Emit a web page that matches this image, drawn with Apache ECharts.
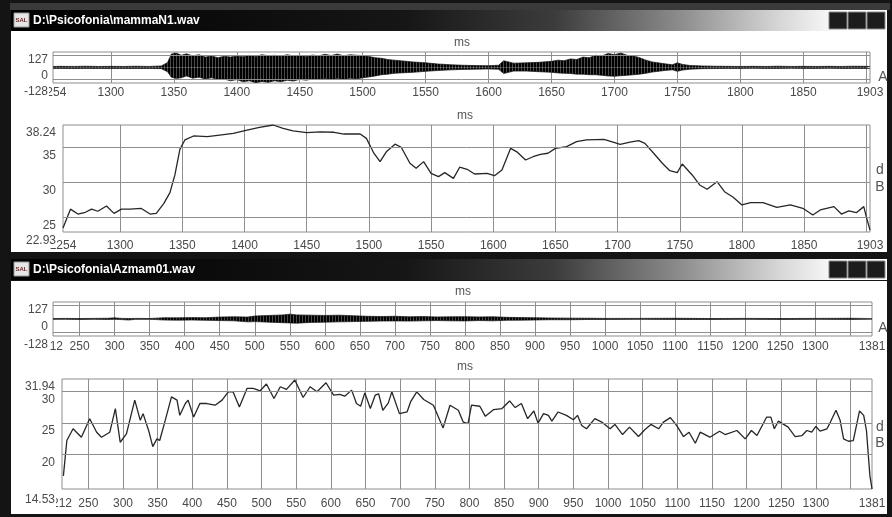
<!DOCTYPE html>
<html><head><meta charset="utf-8">
<script src="https://cdn.jsdelivr.net/npm/echarts@6/dist/echarts.min.js"></script>
<style>html,body{margin:0;padding:0;background:#141414;}#c{width:892px;height:517px;}</style>
</head><body><div id="c"></div>
<script>
// ---------- texts ----------
const titleTop = 'D:\\Psicofonia\\mammaN1.wav';
const titleBottom = 'D:\\Psicofonia\\Azmam01.wav';

// ---------- axis ticks ----------
const topXLabels = [1254,1300,1350,1400,1450,1500,1550,1600,1650,1700,1750,1800,1850,1903];
const topXGrid = [1300,1350,1400,1450,1500,1550,1600,1650,1700,1750,1800,1850,1900];
const botXLabels = [212,250,300,350,400,450,500,550,600,650,700,750,800,850,900,950,1000,1050,1100,1150,1200,1250,1300,1381];
const botXGrid = [250,300,350,400,450,500,550,600,650,700,750,800,850,900,950,1000,1050,1100,1150,1200,1250,1300,1350];
const waveYLabels = [-128,0,127];
const waveYGrid = [-100,100];
const topDbYLabels = [22.93,25,30,35,38.24];
const topDbYGrid = [25,30,35];
const botDbYLabels = [14.53,20,25,30,31.94];
const botDbYGrid = [20,25,30];

// ---------- waveform envelopes [ms, max, min] ----------
const topWave = [
[1254,8,-8],[1260,9,-8],[1270,8,-9],[1280,10,-8],[1290,8,-8],[1300,9,-9],[1310,8,-8],[1320,10,-9],[1330,8,-8],[1340,12,-10],
[1345,40,-35],[1348,110,-80],[1352,118,-90],[1356,100,-85],[1360,112,-70],[1365,95,-88],[1370,105,-80],[1375,85,-95],[1380,95,-85],
[1385,80,-100],[1390,92,-95],[1395,85,-110],[1400,95,-100],[1405,88,-118],[1410,100,-110],[1415,90,-125],[1420,105,-115],[1425,95,-122],
[1430,100,-110],[1435,92,-118],[1440,105,-105],[1445,95,-112],[1450,100,-98],[1455,90,-105],[1460,102,-95],[1465,95,-100],[1470,108,-90],
[1475,98,-100],[1480,110,-92],[1485,95,-100],[1490,105,-88],[1495,100,-95],[1500,98,-85],[1505,90,-78],[1510,80,-70],[1515,75,-60],
[1520,65,-55],[1525,60,-48],[1530,55,-45],[1540,45,-40],[1550,38,-32],[1560,28,-25],[1570,22,-20],[1580,18,-16],[1590,15,-14],[1600,14,-12],
[1608,18,-15],[1612,55,-50],[1616,45,-40],[1620,35,-30],[1630,38,-30],[1640,42,-35],[1650,50,-40],[1655,60,-45],[1660,55,-48],[1665,70,-50],
[1670,65,-55],[1675,85,-55],[1680,80,-60],[1685,100,-60],[1690,95,-65],[1695,115,-70],[1700,105,-72],[1705,118,-68],[1710,100,-65],
[1715,95,-60],[1720,80,-55],[1725,60,-48],[1730,45,-38],[1740,30,-25],[1746,22,-20],[1750,38,-32],[1754,25,-22],[1760,16,-14],[1770,12,-10],
[1780,10,-9],[1790,9,-8],[1800,8,-8],[1810,9,-7],[1820,8,-8],[1830,10,-8],[1840,8,-7],[1850,9,-8],[1860,8,-8],[1870,9,-7],[1880,8,-8],
[1890,10,-8],[1900,9,-8],[1903,8,-7]
];
const botWave = [
[212,3,-3],[230,4,-3],[250,3,-4],[270,4,-3],[290,5,-4],[300,8,-3],[310,4,-5],[320,3,-8],[330,4,-3],[350,3,-3],[360,6,-5],[370,9,-8],
[390,8,-9],[410,10,-8],[430,9,-10],[450,14,-12],[470,16,-14],[490,14,-22],[500,22,-20],[520,26,-24],[540,30,-28],[550,36,-30],[560,30,-32],
[580,28,-26],[600,26,-24],[620,28,-22],[640,24,-20],[660,20,-18],[680,18,-16],[700,20,-15],[720,16,-16],[740,18,-14],[760,15,-12],
[780,16,-14],[800,17,-15],[820,15,-12],[840,16,-14],[860,12,-10],[880,10,-9],[900,9,-8],[920,7,-6],[950,6,-6],[980,5,-4],[1000,4,-4],
[1050,4,-3],[1100,5,-4],[1150,3,-4],[1200,4,-3],[1250,3,-4],[1300,4,-3],[1350,5,-4],[1381,3,-3]
];

// ---------- intensity curves [ms, dB] ----------
const topDb = [
[1254,23.5],[1260,26.2],[1266,25.5],[1272,25.75],[1277,26.2],[1282,25.9],[1289,26.65],[1295,25.6],[1301,26.2],[1308,26.2],[1317,26.3],
[1324,25.5],[1329,25.6],[1335,27.0],[1340,28.56],[1344,31.1],[1348,34.76],[1352,36.1],[1359,36.67],[1370,36.57],[1380,36.8],[1391,37.05],
[1402,37.5],[1412,37.9],[1423,38.24],[1431,37.77],[1439,37.4],[1450,37.14],[1461,37.26],[1472,37.2],[1480,36.95],[1493,36.95],[1498,36.33],
[1504,34.2],[1509,32.99],[1514,34.4],[1521,35.5],[1526,35.05],[1533,32.76],[1538,32.04],[1544,33.0],[1550,31.33],[1556,30.85],[1561,31.42],
[1568,30.6],[1573,32.2],[1579,31.9],[1585,31.23],[1595,31.33],[1601,30.99],[1607,31.8],[1614,34.9],[1619,34.4],[1626,33.23],[1632,33.7],
[1638,34.05],[1644,34.2],[1650,34.9],[1659,35.14],[1667,35.86],[1675,36.1],[1689,36.19],[1697,35.76],[1702,35.48],[1710,35.8],[1717,36.0],
[1722,35.62],[1729,34.2],[1736,32.76],[1742,31.7],[1748,31.42],[1752,32.66],[1760,31.09],[1766,29.66],[1772,29.04],[1780,30.13],[1786,28.7],
[1793,27.9],[1800,26.8],[1807,27.13],[1817,27.13],[1828,26.46],[1839,26.8],[1849,26.32],[1857,25.37],[1863,26.08],[1874,26.56],[1880,25.5],
[1886,25.94],[1892,25.7],[1898,26.56],[1900,25.12],[1903,23.2]
];
const botDb = [
[214,16.6],[219,22.2],[228,24.06],[240,22.73],[252,25.66],[262,23.52],[269,22.73],[281,23.52],[289,27.26],[296,21.93],[305,23.26],[317,28.6],
[325,25.4],[329,26.46],[337,23.8],[343,21.24],[349,22.46],[353,22.2],[361,25.4],[370,29.11],[378,28.6],[382,26.19],[390,28.06],[394,28.6],
[402,25.92],[411,28.06],[421,28.06],[433,27.8],[443,28.6],[452,29.9],[459,29.9],[468,27.52],[479,30.45],[488,30.45],[498,30.07],[507,31.14],
[518,28.86],[527,30.71],[536,30.29],[548,31.78],[560,29.01],[570,30.71],[580,29.91],[593,31.35],[604,29.38],[613,29.5],[620,29.22],[630,30.18],
[637,28.06],[643,27.63],[649,29.75],[657,27.26],[664,29.38],[669,29.6],[675,26.99],[683,28.16],[688,29.91],[699,26.46],[710,26.72],[715,28.31],
[724,29.91],[734,28.7],[748,27.79],[762,24.2],[772,27.79],[784,26.99],[791,25.12],[798,24.86],[803,27.79],[815,27.63],[823,26.03],[835,27.1],
[847,27.26],[858,28.47],[866,27.42],[875,28.06],[884,25.66],[893,26.88],[899,24.96],[907,26.46],[914,26.19],[919,25.28],[928,26.72],[940,26.19],
[950,25.5],[956,26.19],[962,24.59],[969,24.06],[981,25.66],[991,25.12],[1003,24.06],[1010,24.75],[1021,23.15],[1031,24.32],[1044,22.83],
[1053,23.9],[1062,24.75],[1073,24.06],[1080,25.12],[1090,25.82],[1099,24.59],[1109,22.83],[1117,23.52],[1126,21.77],[1133,23.52],[1147,22.73],
[1161,23.68],[1169,23.15],[1186,23.79],[1198,22.46],[1207,23.79],[1215,22.99],[1229,25.92],[1235,25.9],[1240,24.06],[1246,25.28],[1260,24.32],
[1270,22.83],[1280,22.99],[1287,23.79],[1294,23.52],[1300,24.43],[1306,23.68],[1316,24.06],[1321,25.12],[1329,26.99],[1335,25.4],[1340,22.46],
[1347,22.09],[1354,22.2],[1363,26.88],[1369,26.19],[1373,23.79],[1378,16.6],[1381,14.53]
];

// ---------- styles ----------
const GRID_C = '#8e8e8e';
const LABEL_C = '#4a4a4a';
const FONT = 'Liberation Sans';

// vertical-stripe texture used to fill the waveform envelope
const stripe = document.createElement('canvas');
stripe.width = 3; stripe.height = 1;
(function(){ const c = stripe.getContext('2d'); c.fillStyle = '#000'; c.fillRect(0,0,2,1); c.fillStyle = '#4a4a4a'; c.fillRect(2,0,1,1); })();

function xAx(gi, min, max, labels, grid, margin) {
  return {type:'value', gridIndex:gi, min:min, max:max, z:1,
    axisLine:{show:false},
    axisTick:{show:false, customValues:grid},
    splitLine:{show:true, lineStyle:{color:GRID_C, width:1}},
    axisLabel:{customValues:labels, formatter:v=>String(v), color:LABEL_C, fontFamily:FONT, fontSize:12, margin:margin,
      showMinLabel:true, showMaxLabel:true, hideOverlap:false}
  };
}
// primary y axis: interior labels + horizontal grid lines
function yAx(gi, labels, grid, margin) {
  const min = labels[0], max = labels[labels.length - 1];
  return {type:'value', gridIndex:gi, min:min, max:max, z:5,
    axisLine:{show:false},
    axisTick:{show:false, customValues:grid},
    splitLine:{show:true, lineStyle:{color:GRID_C, width:1}},
    axisLabel:{customValues:labels.slice(1, -1), formatter:v=>String(v),
      color:LABEL_C, fontFamily:FONT, fontSize:12,
      verticalAlign:'top', padding:[2,1,1,1], backgroundColor:'#fff', margin:margin}
  };
}
// secondary y axis on the same grid: only the extreme (min / max) labels
function yAxEnds(gi, labels, margin, minPad) {
  const min = labels[0], max = labels[labels.length - 1];
  return {type:'value', gridIndex:gi, min:min, max:max, z:6, position:'left',
    axisLine:{show:false}, axisTick:{show:false}, splitLine:{show:false},
    axisLabel:{customValues:[min, max],
      formatter: v => (v === min ? '{m|' + v + '}' : String(v)),
      rich:{m:{padding:[minPad,0,0,0], color:LABEL_C, fontFamily:FONT, fontSize:12}},
      color:LABEL_C, fontFamily:FONT, fontSize:12,
      verticalAlign:'top', padding:[2,1,1,1], backgroundColor:'#fff', margin:margin,
      showMinLabel:true, showMaxLabel:true}
  };
}
function gridBox(left, top, right, height){
  return {left:left, top:top, right:right, height:height, show:true, borderColor:GRID_C, borderWidth:1, backgroundColor:'transparent', containLabel:false};
}
function waveSeries(idx, arr, col){
  return {type:'line', xAxisIndex:idx, yAxisIndex:idx, symbol:'none', animation:false,
    data: arr.map(d=>[d[0], d[col]]),
    lineStyle:{color:'#111', width:0.7}, areaStyle:{color:{image:stripe, repeat:'repeat'}, opacity:1}, z:3};
}
function dbSeries(idx, arr){
  return {type:'line', xAxisIndex:idx, yAxisIndex:idx, symbol:'none', animation:false,
    data: arr, lineStyle:{color:'#262626', width:1.3}, z:3};
}

const titleGrad = {type:'linear', x:0, y:0, x2:1, y2:0, colorStops:[
  {offset:0, color:'#000'}, {offset:0.45, color:'#161616'}, {offset:0.62, color:'#3c3c3c'},
  {offset:0.76, color:'#8a8a8a'}, {offset:0.88, color:'#d8d8d8'}, {offset:0.95, color:'#fff'}, {offset:1, color:'#fff'}]};

function winGraphics(yTitle, yContent, hContent, title){
  const g = [];
  g.push({type:'rect', shape:{x:11, y:yTitle, width:876, height:21}, style:{fill:titleGrad}, z:-10, silent:true});
  g.push({type:'rect', shape:{x:11, y:yContent, width:876, height:hContent}, style:{fill:'#fff'}, z:-10, silent:true});
  [829, 848, 867].forEach(bx => {
    g.push({type:'rect', shape:{x:bx, y:yTitle+2, width:18, height:17}, style:{fill:'#1c1c1c', stroke:'#8a8a8a', lineWidth:1}, z:-9, silent:true});
  });
  g.push({type:'rect', shape:{x:14, y:yTitle+3, width:15, height:14}, style:{fill:'#e6e6e6', stroke:'#999'}, z:-9, silent:true});
  g.push({type:'text', x:21.5, y:yTitle+10.5, style:{text:'SAL', fill:'#7a2222', font:'bold 6px Liberation Sans', align:'center', verticalAlign:'middle'}, z:-8});
  g.push({type:'text', x:33, y:yTitle+10.5, style:{text:title, fill:'#fff', font:'bold 12px Liberation Sans', verticalAlign:'middle'}, z:-8});
  return g;
}
function label(x, y, t, size){
  return {type:'text', x:x, y:y, style:{text:t, fill:'#555', font:(size||12)+'px Liberation Sans', align:'center', verticalAlign:'middle'}, z:10};
}

const graphics = [].concat(
  [{type:'rect', shape:{x:10, y:3, width:880, height:7}, style:{fill:'#3a3a3a'}, z:-11, silent:true}],
  winGraphics(10, 31, 221, titleTop),
  winGraphics(259, 281, 233, titleBottom),
  [label(462, 43, 'ms'), label(465, 116, 'ms'), label(463, 292, 'ms'), label(465, 367, 'ms'),
   label(883, 77, 'A', 14), label(880, 170, 'd', 14), label(880, 187, 'B', 14),
   label(883, 328, 'A', 14), label(880, 427, 'd', 14), label(880, 443, 'B', 14)]
);

const chart = echarts.init(document.getElementById('c'), null, {renderer:'canvas'});
chart.setOption({
  animation:false,
  backgroundColor:'#141414',
  textStyle:{fontFamily:FONT},
  graphic: graphics,
  grid:[gridBox(53, 52, 22, 31), gridBox(63, 125, 22, 107), gridBox(53, 302, 20, 34), gridBox(62, 379, 20, 110)],
  xAxis:[xAx(0, 1254, 1903, topXLabels, topXGrid, 4), xAx(1, 1254, 1903, topXLabels, topXGrid, 8),
         xAx(2, 212, 1381, botXLabels, botXGrid, 5), xAx(3, 212, 1381, botXLabels, botXGrid, 9)],
  yAxis:[yAx(0, waveYLabels, waveYGrid, 4), yAx(1, topDbYLabels, topDbYGrid, 6),
         yAx(2, waveYLabels, waveYGrid, 4), yAx(3, botDbYLabels, botDbYGrid, 6),
         yAxEnds(0, waveYLabels, 4, 1), yAxEnds(1, topDbYLabels, 6, 1),
         yAxEnds(2, waveYLabels, 4, 1), yAxEnds(3, botDbYLabels, 6, 3)],
  series:[waveSeries(0, topWave, 1), waveSeries(0, topWave, 2), dbSeries(1, topDb),
          waveSeries(2, botWave, 1), waveSeries(2, botWave, 2), dbSeries(3, botDb)]
});
</script></body></html>
